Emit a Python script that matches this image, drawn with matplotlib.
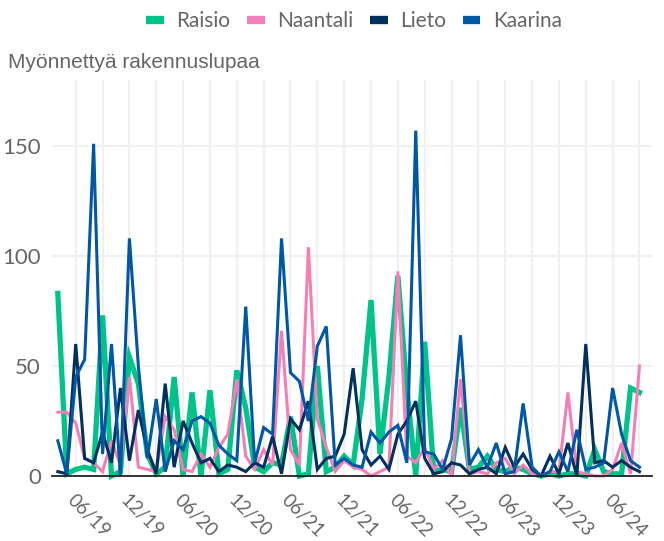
import numpy as np
import pandas as pd
import matplotlib
matplotlib.use("Agg")
import matplotlib.pyplot as plt
import matplotlib.transforms as mtransforms
from matplotlib.lines import Line2D

# Monthly data, April 2019 - September 2024
months = pd.date_range("2019-04-01", periods=66, freq="MS")

raisio = [83, 1, 3, 4, 3, 73, 0, 2, 54, 42, 10, 1, 4, 45, 0, 38, 0, 39, 1, 3,
          48, 31, 4, 2, 6, 5, 27, 0, 1, 50, 2, 4, 9, 5, 35, 80, 10, 45, 91, 40,
          0, 61, 2, 3, 2, 31, 3, 4, 9, 3, 2, 4, 3, 1, 0, 1, 0, 1, 1, 0,
          12, 2, 1, 1, 40, 38]
naantali = [29, 29, 24, 8, 6, 2, 16, 5, 45, 4, 3, 2, 27, 21, 3, 2, 10, 4, 13, 19,
            44, 9, 3, 12, 5, 66, 12, 5, 104, 26, 13, 2, 7, 4, 3, 0, 2, 4, 93, 9,
            6, 13, 3, 7, 0, 44, 1, 2, 1, 6, 8, 1, 5, 1, 0, 2, 2, 38, 2, 1,
            0, 0, 3, 15, 1, 50]
lieto = [2, 1, 60, 8, 6, 20, 6, 40, 7, 30, 12, 1, 42, 4, 25, 15, 6, 8, 2, 5,
         4, 2, 6, 4, 18, 1, 26, 21, 34, 3, 8, 9, 19, 49, 12, 5, 9, 3, 19, 25,
         34, 8, 1, 2, 6, 5, 1, 3, 4, 1, 13, 4, 10, 3, 0, 9, 1, 15, 0, 60,
         6, 7, 4, 7, 4, 2]
kaarina = [16, 1, 45, 53, 151, 10, 60, 0, 108, 50, 8, 35, 2, 16, 12, 25, 27, 24, 14, 10,
           7, 77, 6, 22, 19, 108, 47, 43, 25, 59, 68, 5, 8, 5, 4, 20, 15, 20, 23, 6,
           157, 11, 10, 3, 17, 64, 5, 12, 4, 15, 1, 2, 33, 4, 0, 2, 11, 2, 21, 3,
           4, 6, 40, 19, 7, 4]

series = [
    ("Raisio", raisio, "#00c389", 3.8),
    ("Naantali", naantali, "#f47fb7", 2.2),
    ("Lieto", lieto, "#00305f", 2.2),
    ("Kaarina", kaarina, "#0057a5", 2.2),
]

grey = "#666666"

fig = plt.figure(figsize=(6.64, 5.41), dpi=100)
ax = fig.add_axes([52 / 664, 1 - 476 / 541, 600 / 664, 396 / 541])

x = np.arange(len(months))
for name, vals, col, lw in series:
    ax.plot(x, vals, color=col, lw=lw, solid_joinstyle="miter", clip_on=False, zorder=3)

ax.set_xlim(-0.65, 66.4)
ax.set_ylim(0, 180)

# grid every 3 months, labels every 6 months
grid_pos = [i for i, m in enumerate(months) if m.month % 3 == 0]
grid_lab = [m.strftime("%m/%y") if m.month in (6, 12) else "" for m in months if m.month % 3 == 0]
ax.set_xticks(grid_pos)
ax.set_xticklabels(grid_lab, rotation=-45, ha="left", va="top", rotation_mode="anchor",
                   fontsize=13.5, color=grey, family="Lato")
shift = mtransforms.ScaledTranslation(16 / 100, 0, fig.dpi_scale_trans)
for lab in ax.get_xticklabels():
    lab.set_transform(lab.get_transform() + shift)
ax.set_yticks([0, 50, 100, 150])
ax.set_yticklabels(["0", "50", "100", "150"], fontsize=16, color=grey, family="Lato")
ax.tick_params(axis="x", length=0, pad=11)
ax.tick_params(axis="y", length=0, pad=8)

ax.grid(True, color="#f0f0f0", lw=1.6)
ax.set_axisbelow(True)
for s in ["top", "right", "left"]:
    ax.spines[s].set_visible(False)
ax.spines["bottom"].set_color("#222222")
ax.spines["bottom"].set_linewidth(1.3)
ax.spines["bottom"].set_zorder(4)

fig.text(8 / 664, 1 - 62 / 541, "Myönnettyä rakennuslupaa", fontsize=15, color=grey,
         family="Liberation Sans", va="center", ha="left")

handles = [Line2D([], [], color=c, lw=6, solid_capstyle="butt") for _, _, c, _ in series]
fig.legend(handles, [s[0] for s in series], loc="center", ncol=4,
           bbox_to_anchor=(354 / 664, 1 - 21 / 541), frameon=False,
           handlelength=0.85, handletextpad=0.6, columnspacing=0.8,
           prop={"family": "Lato", "size": 15}, labelcolor=grey)

fig.savefig("out.png", dpi=100)
